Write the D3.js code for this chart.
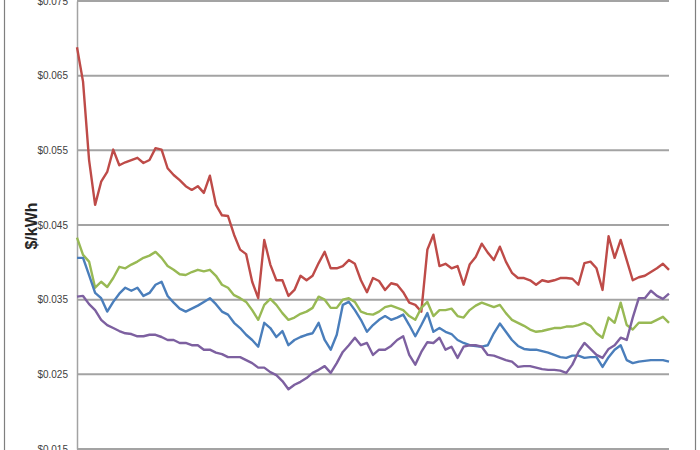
<!DOCTYPE html>
<html>
<head>
<meta charset="utf-8">
<script src="https://cdn.jsdelivr.net/npm/d3@7"></script>
<style>
  body { margin: 0; background: #fff; }
  svg { display: block; font-family: "Liberation Sans", Arial, sans-serif; }
</style>
</head>
<body>
<div id="chart"></div>
<script>
// price series, $/kWh, one value per sample along the x axis
const redSeries = [0.0688, 0.0642, 0.0537, 0.0477, 0.0508, 0.0521, 0.0551, 0.0530, 0.0534, 0.0537,
  0.0540, 0.0533, 0.0537, 0.0553, 0.0551, 0.0526, 0.0517, 0.0510, 0.0502, 0.0497,
  0.0502, 0.0493, 0.0516, 0.0477, 0.0463, 0.0462, 0.0437, 0.0417, 0.0411, 0.0374,
  0.0352, 0.0430, 0.0397, 0.0376, 0.0376, 0.0355, 0.0363, 0.0382, 0.0376, 0.0382,
  0.0399, 0.0414, 0.0392, 0.0392, 0.0395, 0.0403, 0.0398, 0.0376, 0.0360, 0.0379,
  0.0375, 0.0363, 0.0372, 0.0370, 0.0360, 0.0346, 0.0343, 0.0334, 0.0417, 0.0437,
  0.0395, 0.0398, 0.0392, 0.0395, 0.0370, 0.0397, 0.0407, 0.0425, 0.0413, 0.0403,
  0.0421, 0.0401, 0.0386, 0.0379, 0.0379, 0.0376, 0.0370, 0.0376, 0.0374, 0.0376,
  0.0379, 0.0379, 0.0378, 0.0370, 0.0399, 0.0401, 0.0392, 0.0363, 0.0435, 0.0406,
  0.0430, 0.0403, 0.0376, 0.0380, 0.0382, 0.0387, 0.0392, 0.0398, 0.0390];

const greenSeries = [0.0433, 0.0410, 0.0401, 0.0366, 0.0374, 0.0367, 0.0379, 0.0394, 0.0392, 0.0397,
  0.0401, 0.0406, 0.0409, 0.0414, 0.0406, 0.0395, 0.0390, 0.0384, 0.0383, 0.0387,
  0.0390, 0.0388, 0.0390, 0.0382, 0.0370, 0.0366, 0.0356, 0.0352, 0.0347, 0.0336,
  0.0323, 0.0343, 0.0351, 0.0343, 0.0332, 0.0323, 0.0326, 0.0331, 0.0334, 0.0339,
  0.0354, 0.0350, 0.0339, 0.0339, 0.0350, 0.0352, 0.0347, 0.0334, 0.0331, 0.0330,
  0.0334, 0.0340, 0.0342, 0.0339, 0.0336, 0.0328, 0.0323, 0.0339, 0.0347, 0.0328,
  0.0336, 0.0336, 0.0338, 0.0328, 0.0326, 0.0336, 0.0342, 0.0346, 0.0343, 0.0340,
  0.0343, 0.0332, 0.0323, 0.0319, 0.0315, 0.0310, 0.0307, 0.0308, 0.0310, 0.0312,
  0.0312, 0.0314, 0.0314, 0.0316, 0.0319, 0.0315, 0.0305, 0.0299, 0.0326, 0.0319,
  0.0346, 0.0316, 0.0310, 0.0319, 0.0319, 0.0319, 0.0323, 0.0327, 0.0319];

const blueSeries = [0.0406, 0.0406, 0.0383, 0.0359, 0.0352, 0.0334, 0.0347, 0.0358, 0.0366, 0.0362,
  0.0366, 0.0355, 0.0359, 0.0370, 0.0374, 0.0355, 0.0346, 0.0338, 0.0334, 0.0338,
  0.0342, 0.0347, 0.0352, 0.0344, 0.0334, 0.0330, 0.0319, 0.0312, 0.0303, 0.0296,
  0.0287, 0.0319, 0.0312, 0.0300, 0.0308, 0.0289, 0.0296, 0.0300, 0.0303, 0.0305,
  0.0319, 0.0296, 0.0283, 0.0303, 0.0343, 0.0347, 0.0336, 0.0323, 0.0307, 0.0316,
  0.0323, 0.0328, 0.0323, 0.0326, 0.0330, 0.0316, 0.0301, 0.0316, 0.0332, 0.0307,
  0.0312, 0.0307, 0.0304, 0.0296, 0.0292, 0.0289, 0.0288, 0.0287, 0.0289, 0.0305,
  0.0318, 0.0307, 0.0296, 0.0288, 0.0284, 0.0283, 0.0283, 0.0281, 0.0279, 0.0276,
  0.0273, 0.0272, 0.0275, 0.0275, 0.0272, 0.0273, 0.0273, 0.0260, 0.0273, 0.0283,
  0.0289, 0.0269, 0.0265, 0.0267, 0.0268, 0.0269, 0.0269, 0.0269, 0.0267];

const purpleSeries = [0.0354, 0.0355, 0.0344, 0.0336, 0.0323, 0.0316, 0.0312, 0.0308, 0.0305, 0.0304,
  0.0301, 0.0301, 0.0303, 0.0303, 0.0300, 0.0296, 0.0296, 0.0292, 0.0292, 0.0289,
  0.0289, 0.0283, 0.0283, 0.0279, 0.0277, 0.0273, 0.0273, 0.0273, 0.0269, 0.0265,
  0.0259, 0.0259, 0.0253, 0.0249, 0.0241, 0.0230, 0.0236, 0.0240, 0.0245, 0.0252,
  0.0256, 0.0261, 0.0252, 0.0265, 0.0280, 0.0289, 0.0299, 0.0289, 0.0292, 0.0276,
  0.0283, 0.0283, 0.0288, 0.0296, 0.0301, 0.0276, 0.0263, 0.0280, 0.0293, 0.0292,
  0.0299, 0.0283, 0.0287, 0.0272, 0.0287, 0.0289, 0.0289, 0.0287, 0.0276, 0.0275,
  0.0272, 0.0269, 0.0267, 0.0260, 0.0261, 0.0261, 0.0259, 0.0257, 0.0256, 0.0256,
  0.0255, 0.0252, 0.0263, 0.0280, 0.0292, 0.0284, 0.0276, 0.0272, 0.0284, 0.0289,
  0.0299, 0.0296, 0.0326, 0.0352, 0.0352, 0.0362, 0.0355, 0.0351, 0.0358];

const yTicks = [0.015, 0.025, 0.035, 0.045, 0.055, 0.065, 0.075];
const yTitle = "$/kWh";

const series = [
  { values: redSeries, color: "#be4b48" },
  { values: greenSeries, color: "#98b954" },
  { values: blueSeries, color: "#4a7ebb" },
  { values: purpleSeries, color: "#7d60a0" }
];

const width = 700, height = 450;
const plot = { left: 77, right: 669, top: 1, bottom: 449 };

const svg = d3.select("#chart")
  .append("svg")
  .attr("width", width)
  .attr("height", height);

svg.append("rect")
  .attr("width", width)
  .attr("height", height)
  .attr("fill", "#fff");

// outer frame (only the sides show in the crop)
svg.append("line")
  .attr("x1", 4.5).attr("x2", 4.5)
  .attr("y1", 0).attr("y2", height)
  .attr("stroke", "#7f7f7f").attr("stroke-width", 1.2);
svg.append("line")
  .attr("x1", 695.5).attr("x2", 695.5)
  .attr("y1", 0).attr("y2", height)
  .attr("stroke", "#7f7f7f").attr("stroke-width", 1.2);

const x = d3.scaleLinear()
  .domain([0, redSeries.length - 1])
  .range([plot.left, plot.right]);

const y = d3.scaleLinear()
  .domain([0.015, 0.075])
  .range([plot.bottom, plot.top]);

// gridlines
svg.append("g")
  .selectAll("line")
  .data(yTicks)
  .join("line")
  .attr("x1", plot.left)
  .attr("x2", plot.right)
  .attr("y1", d => y(d))
  .attr("y2", d => y(d))
  .attr("stroke", "#a3a3a3")
  .attr("stroke-width", 2);

// y axis
const yAxis = d3.axisLeft(y)
  .tickValues(yTicks)
  .tickSize(0)
  .tickPadding(9)
  .tickFormat(d => "$" + d3.format(".3f")(d));

const ya = svg.append("g")
  .attr("transform", `translate(${plot.left},0)`)
  .call(yAxis);
ya.select(".domain")
  .attr("stroke", "#a3a3a3")
  .attr("stroke-width", 1.5);
ya.selectAll("text")
  .attr("fill", "#404040")
  .style("font-size", "10px")
  .style("font-family", "'Liberation Sans', Arial, sans-serif");

svg.append("text")
  .attr("transform", "translate(37,226) rotate(-90)")
  .attr("text-anchor", "middle")
  .attr("fill", "#262626")
  .style("font-size", "16px")
  .style("font-weight", "bold")
  .text(yTitle);

// lines
const line = d3.line()
  .x((d, i) => x(i))
  .y(d => y(d));

svg.append("g")
  .selectAll("path")
  .data(series)
  .join("path")
  .attr("d", d => line(d.values))
  .attr("fill", "none")
  .attr("stroke", d => d.color)
  .attr("stroke-width", 2.4)
  .attr("stroke-linejoin", "round");
</script>
</body>
</html>
